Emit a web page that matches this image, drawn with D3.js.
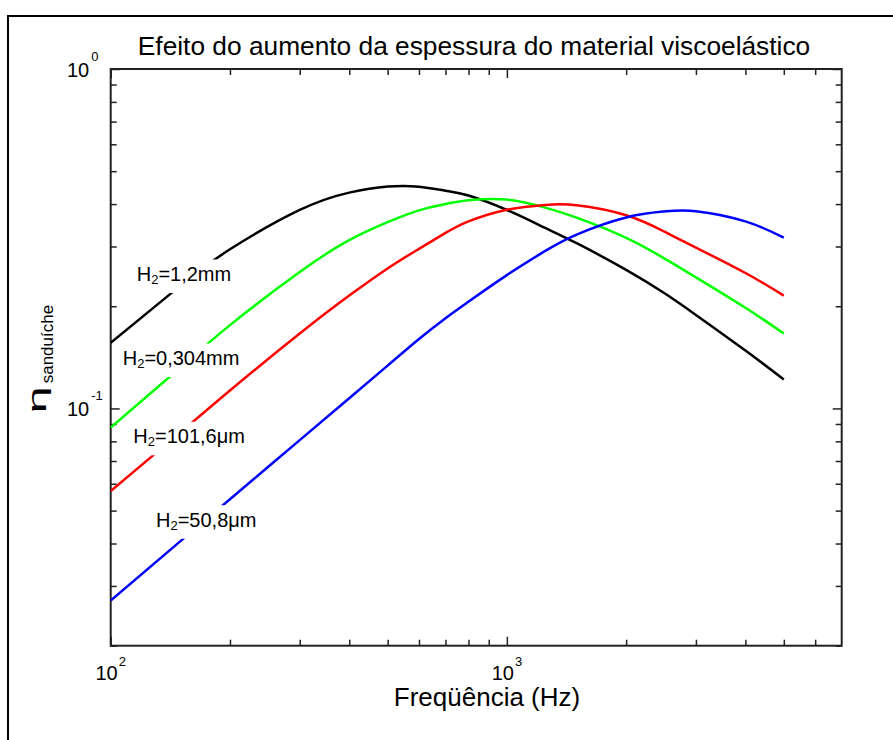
<!DOCTYPE html>
<html>
<head>
<meta charset="utf-8">
<script src="https://cdn.jsdelivr.net/npm/d3@7"></script>
<style>
  body { margin: 0; background: #fff; }
  svg { display: block; }
  text { font-family: "Liberation Sans", Arial, Helvetica, sans-serif; fill: #000; }
</style>
</head>
<body>
<svg id="chart" width="893" height="740"></svg>
<script>
// Loss factor of the sandwich beam vs frequency, one curve per core thickness
const frequencies = [100, 150, 200, 300, 400, 500, 600, 700, 800, 1000, 1250, 1500, 2000, 2500, 3000, 4000, 5000];
const eta_1_2mm   = [0.1560, 0.2300, 0.2943, 0.3843, 0.4324, 0.4506, 0.4500, 0.4380, 0.4239, 0.3843, 0.3401, 0.3067, 0.2560, 0.2184, 0.1886, 0.1481, 0.1217];
const eta_0_304mm = [0.0879, 0.1320, 0.1760, 0.2523, 0.3132, 0.3538, 0.3833, 0.4003, 0.4105, 0.4123, 0.3905, 0.3647, 0.3180, 0.2764, 0.2434, 0.1980, 0.1662];
const eta_101_6um = [0.0571, 0.0850, 0.1130, 0.1662, 0.2150, 0.2585, 0.2953, 0.3289, 0.3557, 0.3851, 0.3978, 0.3968, 0.3708, 0.3316, 0.2977, 0.2506, 0.2150];
const eta_50_8um  = [0.02716, 0.04065, 0.05402, 0.08066, 0.1072, 0.1337, 0.1602, 0.1845, 0.2064, 0.2471, 0.2911, 0.3253, 0.3652, 0.3805, 0.3813, 0.3558, 0.3184];

const thicknessLabels = ["1,2mm", "0,304mm", "101,6\u03bcm", "50,8\u03bcm"];
const seriesColors = ["#000000", "#00ff00", "#ff0000", "#0000ff"];

// axis ticks
const xMajorTicks = [100, 1000];
const xMinorTicks = [200, 300, 400, 500, 600, 700, 800, 900, 2000, 3000, 4000, 5000, 6000];
const yMajorTicks = [0.1, 1];
const yMinorTicks = [0.02, 0.03, 0.04, 0.05, 0.06, 0.07, 0.08, 0.09, 0.2, 0.3, 0.4, 0.5, 0.6, 0.7, 0.8, 0.9];
const xTickExponents = [[100, "2"], [1000, "3"]];
const yTickExponents = [[1, "0"], [0.1, "-1"]];

const titleText = "Efeito do aumento da espessura do material viscoelástico";
const xLabelText = "Freqüência (Hz)";

// ---------------- layout ----------------
const box = { left: 110.7, right: 841.7, top: 69, bottom: 645.7 };
const labelAnchors = [[136.7, 281], [122.7, 365], [133.3, 443.3], [156, 526.7]];

const svg = d3.select("#chart");

const x = d3.scaleLog().domain([100, 7000]).range([box.left, box.right]);
const y = d3.scaleLog().domain([0.02, 1]).range([box.bottom, box.top]);

// figure frame
svg.append("rect")
  .attr("x", 8).attr("y", 16).attr("width", 1000).attr("height", 1000)
  .attr("fill", "none").attr("stroke", "#000").attr("stroke-width", 2);

// title
svg.append("text")
  .attr("x", 474).attr("y", 55)
  .attr("text-anchor", "middle")
  .attr("font-size", 26.3)
  .text(titleText);

// ticks (drawn inward on all four sides)
function tickAxis(gen, values, size, transform) {
  const g = svg.append("g").attr("transform", transform)
    .call(gen.tickValues(values).tickSizeInner(-size).tickSizeOuter(0).tickFormat(""));
  g.select(".domain").remove();
  g.selectAll(".tick line").attr("stroke", "#222").attr("stroke-width", 1.5);
}
tickAxis(d3.axisBottom(x), xMajorTicks, 9, `translate(0,${box.bottom})`);
tickAxis(d3.axisBottom(x), xMinorTicks, 6, `translate(0,${box.bottom})`);
tickAxis(d3.axisTop(x), xMajorTicks, 9, `translate(0,${box.top})`);
tickAxis(d3.axisTop(x), xMinorTicks, 6, `translate(0,${box.top})`);
tickAxis(d3.axisLeft(y), yMajorTicks, 9, `translate(${box.left},0)`);
tickAxis(d3.axisLeft(y), yMinorTicks, 6, `translate(${box.left},0)`);
tickAxis(d3.axisRight(y), yMajorTicks, 9, `translate(${box.right},0)`);
tickAxis(d3.axisRight(y), yMinorTicks, 6, `translate(${box.right},0)`);

// plot box
svg.append("rect")
  .attr("x", box.left).attr("y", box.top)
  .attr("width", box.right - box.left).attr("height", box.bottom - box.top)
  .attr("fill", "none").attr("stroke", "#222").attr("stroke-width", 2);

// x tick labels: 10^n
xTickExponents.forEach(([v, e]) => {
  const t = svg.append("text")
    .attr("x", x(v)).attr("y", 680)
    .attr("text-anchor", "middle")
    .attr("font-size", 20);
  t.append("tspan").text("10");
  t.append("tspan").attr("dy", -14).attr("dx", 1).attr("font-size", 13).text(e);
});

// y tick labels: 10^n
yTickExponents.forEach(([v, e]) => {
  const t = svg.append("text")
    .attr("x", 67).attr("y", y(v) + 7.7)
    .attr("font-size", 20);
  t.append("tspan").text("10");
  t.append("tspan").attr("dy", -16).attr("dx", 2).attr("font-size", 13).text(e);
});

// x axis label
svg.append("text")
  .attr("x", 487).attr("y", 706)
  .attr("text-anchor", "middle")
  .attr("font-size", 26)
  .text(xLabelText);

// y axis label: eta with subscript
const yl = svg.append("g").attr("transform", "translate(46,413.3) rotate(-90)");
yl.append("text").attr("x", 0).attr("y", 0)
  .attr("font-size", 26)
  .attr("textLength", 27).attr("lengthAdjust", "spacingAndGlyphs")
  .text("\u03b7");
yl.append("text").attr("x", 30).attr("y", 7)
  .attr("font-size", 17)
  .text("sanduíche");

// curves
const allSeries = [eta_1_2mm, eta_0_304mm, eta_101_6um, eta_50_8um];
const line = d3.line()
  .x(d => x(d[0]))
  .y(d => y(d[1]))
  .curve(d3.curveNatural);

svg.append("clipPath").attr("id", "plotClip")
  .append("rect")
  .attr("x", box.left).attr("y", box.top)
  .attr("width", box.right - box.left).attr("height", box.bottom - box.top);

svg.append("g").attr("clip-path", "url(#plotClip)")
  .selectAll("path")
  .data(allSeries)
  .join("path")
  .attr("d", vals => line(frequencies.map((f, i) => [f, vals[i]])))
  .attr("fill", "none")
  .attr("stroke", (d, i) => seriesColors[i])
  .attr("stroke-width", 2.5)
  .attr("stroke-linejoin", "round");

// curve labels on white boxes
thicknessLabels.forEach((lab, i) => {
  const [lx, ly] = labelAnchors[i];
  const g = svg.append("g");
  const bg = g.append("rect").attr("fill", "#fff");
  const t = g.append("text").attr("x", lx).attr("y", ly).attr("font-size", 20);
  t.append("tspan").text("H");
  t.append("tspan").attr("font-size", 13).attr("dy", 3).text("2");
  t.append("tspan").attr("dy", -3).text("=" + lab);
  const w = t.node().getComputedTextLength();
  bg.attr("x", lx - 4).attr("y", ly - 21.5).attr("width", w + 8).attr("height", 33.5);
});
</script>
</body>
</html>
